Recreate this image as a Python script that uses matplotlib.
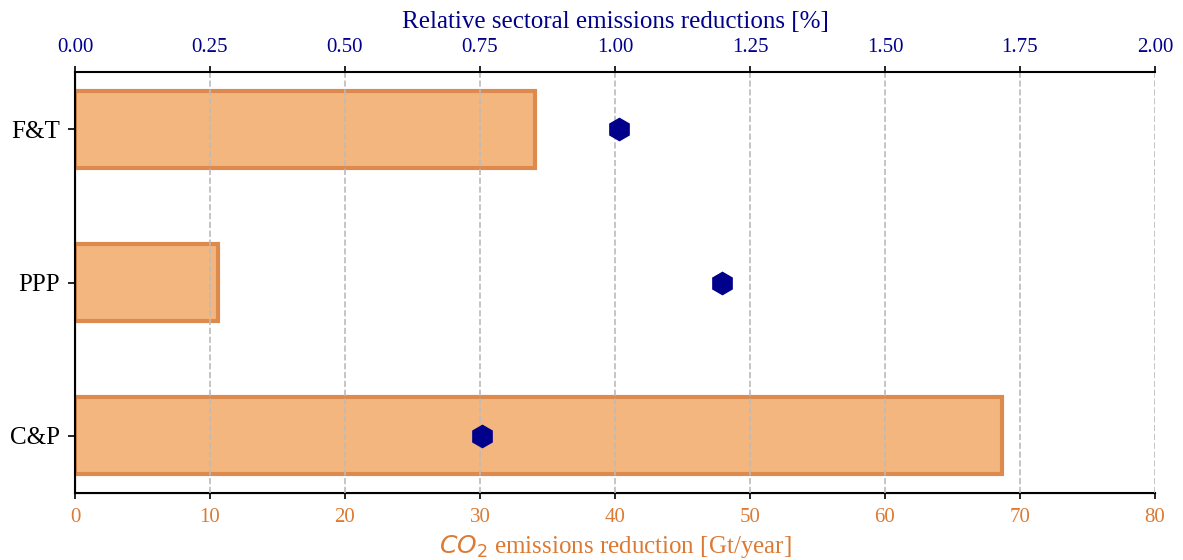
import matplotlib.pyplot as plt

plt.rcParams['font.family'] = ['Liberation Serif', 'DejaVu Serif']
plt.rcParams['mathtext.fontset'] = 'dejavusans'

sectors = ['C&P', 'PPP', 'F&T']
co2_reduction = [68.7, 10.6, 34.1]        # Gt/year
relative_reduction = [0.754, 1.198, 1.007]  # %

orange = '#DC7A34'
blue = '#00008B'

fig, ax = plt.subplots(figsize=(11.83, 5.6), dpi=100)
fig.subplots_adjust(left=0.0634, right=0.9763, top=0.8714, bottom=0.1196)

ypos = range(len(sectors))
ax.barh(ypos, co2_reduction, height=0.5, color='#F4B67F',
        edgecolor='#DC8A4E', linewidth=3, zorder=1)
ax.set_yticks(list(ypos))
ax.set_yticklabels(sectors, fontsize=18)
ax.tick_params(axis='y', length=5, width=1.2, pad=6)
ax.set_xlim(0, 80)
ax.set_xlabel(r'$CO_2$ emissions reduction [Gt/year]', color=orange,
              fontsize=18, labelpad=4)
ax.tick_params(axis='x', colors='black', labelcolor=orange, labelsize=15,
               length=4.5, width=1.2, pad=6.5)
ax.spines['right'].set_visible(False)
ax.spines['top'].set_visible(False)
for side in ['left', 'bottom']:
    ax.spines[side].set_linewidth(1.5)

ax2 = ax.twiny()
ax2.plot(relative_reduction, list(ypos), 'h', color=blue, markersize=16, zorder=3)
ax2.set_xlim(0, 2.0)
ax2.set_xticks([0, 0.25, 0.5, 0.75, 1.0, 1.25, 1.5, 1.75, 2.0])
ax2.set_xticklabels(['%.2f' % t for t in ax2.get_xticks()])
ax2.set_xlabel('Relative sectoral emissions reductions [%]', color=blue,
               fontsize=18, labelpad=7)
ax2.tick_params(axis='x', colors='black', labelcolor=blue, labelsize=15,
                length=4.5, width=1.2, pad=6.5)
ax2.spines['right'].set_visible(False)
ax2.spines['top'].set_linewidth(1.5)
ax2.grid(axis='x', linestyle='--', color='#BBBBBB', linewidth=1.2)

fig.savefig('out.png', dpi=100)
